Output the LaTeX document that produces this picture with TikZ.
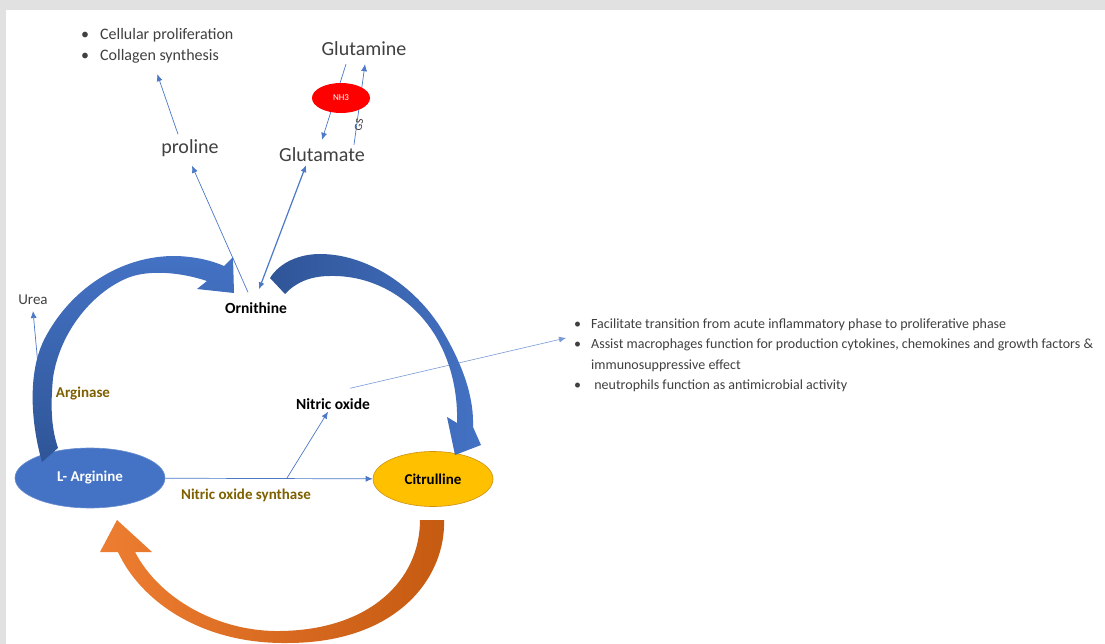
\documentclass[tikz,border=0pt]{standalone}
\usepackage{fontspec}
\setmainfont{Carlito}
\usepackage{xcolor}
\usetikzlibrary{arrows.meta,positioning,calc,shapes.geometric}

\definecolor{argblue}{RGB}{68,114,196}
\definecolor{darkblue}{RGB}{47,85,151}
\definecolor{citgold}{RGB}{255,192,0}
\definecolor{citedge}{RGB}{205,145,20}
\definecolor{orangeL}{RGB}{237,125,49}
\definecolor{orangeD}{RGB}{197,90,17}
\definecolor{enzyme}{RGB}{127,96,0}
\definecolor{txtgray}{RGB}{64,64,64}
\definecolor{linkblue}{RGB}{76,120,200}
\definecolor{framegray}{RGB}{225,225,225}

\begin{document}
\begin{tikzpicture}[
    x=1pt, y=-1pt,
    metab/.style={font=\fontsize{20}{24}\selectfont, text=txtgray, inner sep=2pt},
    keynode/.style={font=\fontsize{15.5}{18}\selectfont\bfseries, text=black, inner sep=2pt},
    enzymename/.style={font=\fontsize{15}{18}\selectfont\bfseries, text=enzyme, inner sep=2pt},
    pool/.style={ellipse, draw, line width=0.6pt, font=\fontsize{15}{18}\selectfont\bfseries, inner sep=0pt},
    notes/.style={font=\fontsize{14}{16}\selectfont, text=txtgray, align=left, inner sep=0pt},
    link/.style={-{Latex[length=7pt,width=6pt]}, draw=linkblue, line width=0.7pt},
    bigarrow/.style={draw=none}
]

% Frame
\useasboundingbox (0,0) rectangle (1105,644);
\fill[framegray] (0,0) rectangle (1105,644);
\fill[white] (6,10) rectangle (1105,644);

% Top notes
\node[notes, anchor=west, font=\fontsize{16}{19}\selectfont] (growth) at (81,46) {%
    \begin{tabular}{@{}l@{\hspace{11pt}}l@{}}
    \textbullet & Cellular proliferation \\[2pt]
    \textbullet & Collagen synthesis
    \end{tabular}};

% Metabolites
\node[metab] (gln) at (364,49) {Glutamine};
\node[metab] (glu) at (322,155) {Glutamate};
\node[metab] (proline) at (190,148) {proline};
\node[keynode] (orn) at (256,308) {Ornithine};
\node[font=\fontsize{15}{18}\selectfont, text=txtgray, inner sep=2pt] (urea) at (33,300) {Urea};
\node[enzymename] (arginase) at (83,394) {Arginase};
\node[keynode] (no) at (333,404) {Nitric oxide};
\node[pool, fill=argblue, draw=argblue!80!white, text=white, minimum width=150pt, minimum height=60pt] (larg) at (90,478) {L- Arginine};
\node[pool, fill=citgold, draw=citedge, minimum width=120pt, minimum height=55pt] (cit) at (433,479) {Citrulline};
\node[enzymename] (nos) at (246,495) {Nitric oxide synthase};

% Effects of nitric oxide
\node[notes, anchor=north west] (effects) at (574,317) {%
    \begin{tabular}{@{}l@{\hspace{10pt}}l@{}}
    \textbullet & Facilitate transition from acute inflammatory phase to proliferative phase \\[4.5pt]
    \textbullet & Assist macrophages function for production cytokines, chemokines and growth factors \& \\[4.5pt]
     & immunosuppressive effect \\[4.5pt]
    \textbullet & \ neutrophils function as antimicrobial activity
    \end{tabular}};

% Thin connectors
\coordinate (ureatail) at (38,365);
\coordinate (nosbranch) at (287,478);
\draw[link] (ureatail) -- ([yshift=-4pt]urea.south);
\draw[link] ([xshift=-8pt,yshift=8pt]orn.north) -- ([xshift=2pt,yshift=-7pt]proline.south);
\draw[link] ([xshift=-12pt,yshift=3pt]proline.north) -- ([yshift=-8pt]growth.south);
\draw[{Latex[length=7pt,width=6pt]}-{Latex[length=7pt,width=6pt]}, draw=linkblue, line width=1.2pt]
    ([xshift=3pt,yshift=11pt]orn.north) -- ([xshift=-16pt,yshift=-1pt]glu.south);
\draw[link] ([xshift=-18pt,yshift=-6pt]gln.south) -- ([yshift=6pt]glu.north);
\draw[link] ([xshift=32pt,yshift=1pt]glu.north) -- ([xshift=1pt,yshift=-6pt]gln.south);
\node[ellipse, fill=red, minimum width=58pt, minimum height=30pt, inner sep=0pt,
      text=white, font=\fontsize{9}{10}\selectfont] (nh3) at (341,98) {NH3};
\node[font=\fontsize{11}{12}\selectfont, text=txtgray, rotate=80, inner sep=0pt] (gs) at (359,125) {GS};
\draw[link] (larg) -- (cit);
\draw[link] (nosbranch) -- ([xshift=-5pt]no.south);
\draw[link, line width=0.6pt, draw=linkblue!75!white] ([xshift=17pt,yshift=8pt]no.north) -- ([xshift=-8pt,yshift=18pt]effects.west);

% Big curved arrows
% Arginase: L-Arginine to Ornithine
\shade[bigarrow, top color=argblue, bottom color=darkblue]
    (42,462) .. controls (30,420) and (28,370) .. (45,338)
    .. controls (70,290) and (120,255) .. (177,256)
    .. controls (200,257) and (215,262) .. (224,266)
    -- (233,257) -- (234,293) -- (197,289) -- (207,281)
    .. controls (180,272) and (150,270) .. (130,277)
    .. controls (95,290) and (60,330) .. (53,378)
    .. controls (50,410) and (52,430) .. (58,448) -- cycle;
% Ornithine to Citrulline
\shade[bigarrow, left color=darkblue, right color=argblue]
    (270,278) .. controls (280,262) and (300,254) .. (320,254)
    .. controls (370,254) and (420,290) .. (445,335)
    .. controls (465,370) and (474,400) .. (473,427)
    -- (481,445) -- (455,455) -- (447,417) -- (457,423)
    .. controls (458,390) and (450,360) .. (435,335)
    .. controls (410,295) and (370,275) .. (330,276)
    .. controls (310,276) and (295,283) .. (285,294) -- cycle;
% Citrulline back to L-Arginine
\shade[bigarrow, left color=orangeL, right color=orangeD]
    (444,520) .. controls (446,575) and (400,643) .. (287,643)
    .. controls (200,644) and (140,600) .. (118,552)
    -- (100,552) -- (117,520) -- (152,552) -- (135,552)
    .. controls (160,600) and (220,632) .. (280,631)
    .. controls (370,630) and (420,580) .. (420,520) -- cycle;

\end{tikzpicture}
\end{document}
